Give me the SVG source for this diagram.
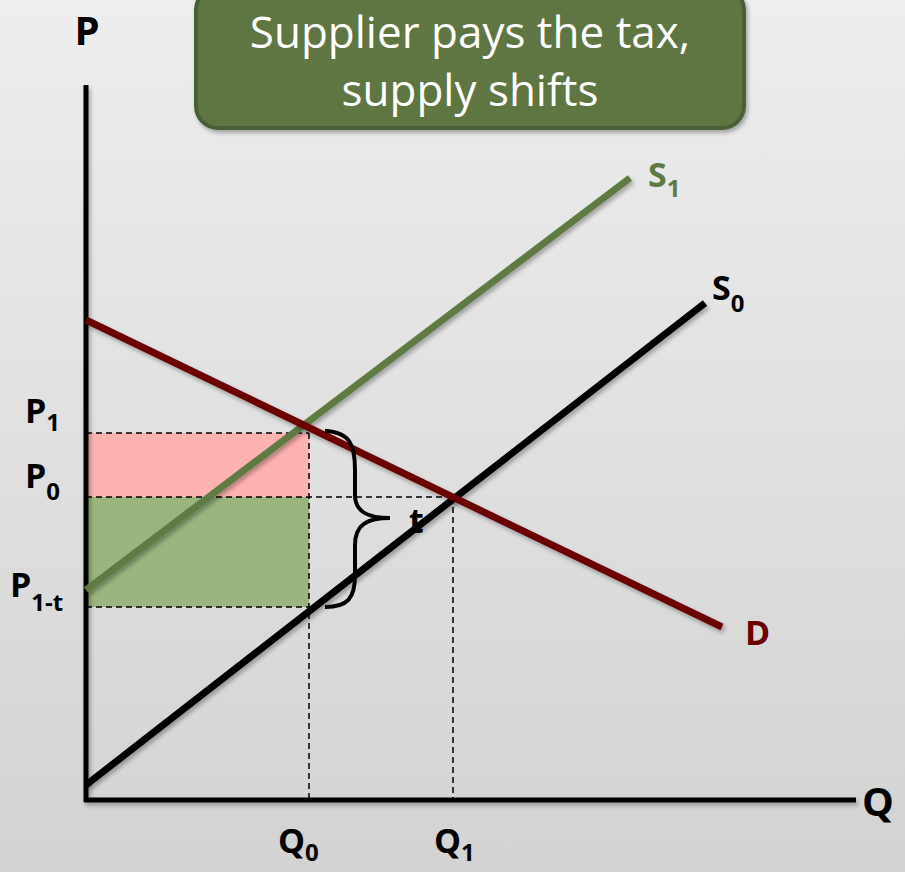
<svg xmlns="http://www.w3.org/2000/svg" width="905" height="872" viewBox="0 0 905 872">
<defs>
<linearGradient id="bg" x1="0" y1="0" x2="0" y2="1">
<stop offset="0" stop-color="#eeeeee"/>
<stop offset="1" stop-color="#d3d3d3"/>
</linearGradient>
<filter id="sh" x="-10%" y="-10%" width="120%" height="120%">
<feDropShadow dx="2" dy="3" stdDeviation="2" flood-color="#000" flood-opacity="0.3"/>
</filter>
<style>
.lbl{font-family:"Open Sans","Liberation Sans",sans-serif;font-weight:bold;fill:#000}
.dash{stroke:#000;stroke-width:1.5;stroke-dasharray:6 4;fill:none}
.curve{fill:none;stroke-width:7;stroke-linecap:butt}
</style>
</defs>
<rect width="905" height="872" fill="url(#bg)"/>
<g id="areas">
<rect x="86" y="433" width="223" height="64" fill="#ffb3b0"/>
<rect x="86" y="497" width="223" height="110" fill="#9bb57f"/>
</g>
<g id="guides">
<line class="dash" x1="86" y1="433" x2="309" y2="433"/>
<line class="dash" x1="86" y1="497" x2="453" y2="497"/>
<line class="dash" x1="86" y1="607" x2="309" y2="607"/>
<line class="dash" x1="309" y1="433" x2="309" y2="800"/>
<line class="dash" x1="453" y1="497" x2="453" y2="800"/>
</g>
<g id="axes" filter="url(#sh)">
<line x1="86" y1="85" x2="86" y2="802" stroke="#000" stroke-width="5"/>
<line x1="84" y1="800" x2="856" y2="800" stroke="#000" stroke-width="5"/>
</g>
<g id="connectors">
<line id="S1" class="curve" x1="86" y1="590" x2="630" y2="178" stroke="#5e7a43" filter="url(#sh)"/>
<line id="S0" class="curve" x1="86" y1="785" x2="705" y2="303" stroke="#000" filter="url(#sh)"/>
<line id="D" class="curve" x1="86" y1="320" x2="722" y2="627" stroke="#6b0000" filter="url(#sh)"/>
<path id="brace" d="M325,431 C350,432 355,445 355,470 L355,495 C355,512 368,518 390,518 C368,518 355,524 355,545 L355,575 C355,598 348,607 325,607" fill="none" stroke="#000" stroke-width="4"/>
</g>
<g id="title">
<rect x="196" y="-12" width="548" height="140" rx="22" fill="#5e7542" stroke="#4a5e34" stroke-width="4" filter="url(#sh)"/>
<text x="470" y="48" text-anchor="middle" font-family="'Open Sans','Liberation Sans',sans-serif" font-size="44" fill="#fff">Supplier pays the tax,</text>
<text x="470" y="106" text-anchor="middle" font-family="'Open Sans','Liberation Sans',sans-serif" font-size="44" fill="#fff">supply shifts</text>
</g>
<g id="labels">
<text class="lbl" x="87" y="45" font-size="40" text-anchor="middle">P</text>
<text class="lbl" x="862" y="816" font-size="40">Q</text>
<text class="lbl" x="25" y="423" font-size="34">P<tspan font-size="24" dy="8">1</tspan></text>
<text class="lbl" x="25" y="488" font-size="34">P<tspan font-size="24" dy="12">0</tspan></text>
<text class="lbl" x="10" y="597" font-size="34">P<tspan font-size="24" dy="14">1-t</tspan></text>
<text class="lbl" x="278" y="853" font-size="34">Q<tspan font-size="24" dy="8">0</tspan></text>
<text class="lbl" x="434" y="853" font-size="34">Q<tspan font-size="24" dy="8">1</tspan></text>
<text class="lbl" x="648" y="187" font-size="34" style="fill:#5e7a43">S<tspan font-size="24" dy="10">1</tspan></text>
<text class="lbl" x="712" y="300" font-size="34">S<tspan font-size="24" dy="12">0</tspan></text>
<text class="lbl" x="745" y="645" font-size="34" style="fill:#6b0000">D</text>
<text class="lbl" x="409" y="533" font-size="34">t</text>
</g>
</svg>
